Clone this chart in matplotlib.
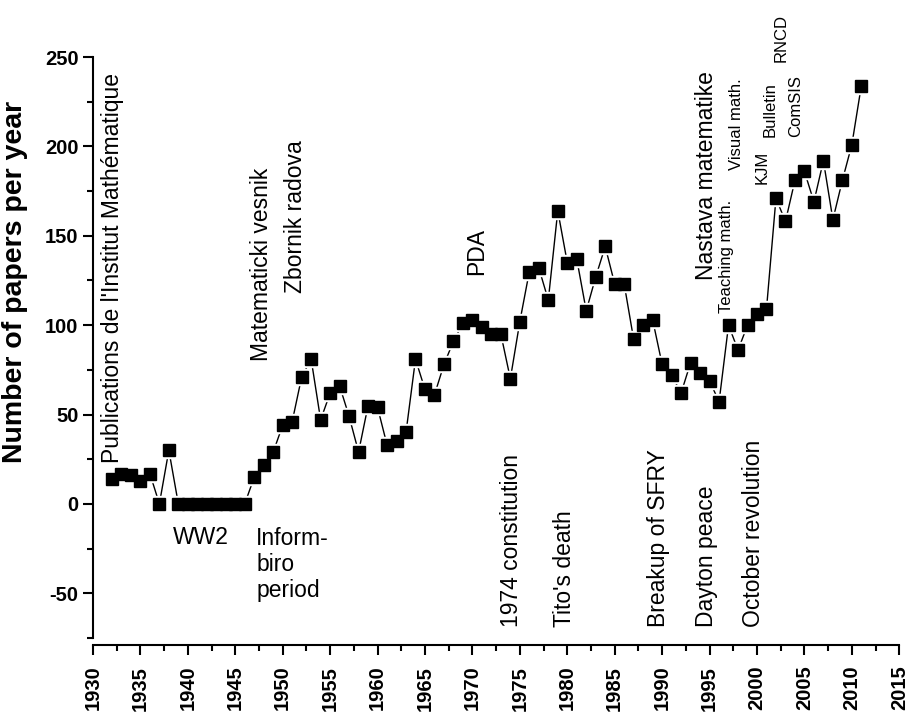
import numpy as np
import matplotlib
matplotlib.use("Agg")
import matplotlib.pyplot as plt
from matplotlib.ticker import MultipleLocator

plt.rcParams['font.family'] = ['Liberation Sans', 'DejaVu Sans']
plt.rcParams['axes.unicode_minus'] = False

years = list(range(1932, 2012))
papers = [14, 17, 16, 13, 17, 0, 30,
          0, 0, 0, 0, 0, 0, 0, 0,
          15, 22, 29, 44, 46, 71, 81, 47, 62, 66, 49, 29, 55, 54, 33, 35, 40,
          81, 64, 61, 78, 91, 101, 103, 99, 95, 95, 70, 102, 130, 132, 114,
          164, 135, 137, 108, 127, 144, 123, 123, 92, 100, 103, 78, 72, 62,
          79, 73, 69, 57, 100, 86, 100, 106, 109, 171, 158, 181, 186, 169,
          192, 159, 181, 201, 234]

# journals started (top) and events (bottom): label, x, y of text bottom
journals = [("Publications de l'Institut Mathématique", 1932.1, 23, 16.5),
            ("Matematicki vesnik", 1947.75, 80, 16.5),
            ("Zbornik radova", 1951.3, 118, 16.5),
            ("PDA", 1970.4, 128, 16.5),
            ("Nastava matematike", 1994.7, 125, 16.5),
            ("Teaching math.", 1996.8, 107, 12),
            ("Visual math.", 1997.8, 187, 12),
            ("KJM", 2000.5, 179, 12),
            ("Bulletin", 2001.4, 205, 12),
            ("ComSIS", 2004.1, 205, 12),
            ("RNCD", 2002.5, 247, 12)]
events = [("1974 constitution", 1974.1),
          ("Tito's death", 1979.7),
          ("Breakup of SFRY", 1989.6),
          ("Dayton peace", 1994.7),
          ("October revolution", 1999.6)]

fig = plt.figure(figsize=(9.07, 7.19), dpi=100)
ax = fig.add_axes([0.1025, 0.1127, 0.889, 0.808])

ax.plot(years, papers, color='black', lw=1.0, zorder=2)
# white halo so the line stops short of the markers
ax.plot(years, papers, ls='none', marker='s', ms=11, color='white', zorder=3)
ax.plot(years, papers, ls='none', marker='s', ms=8.2, color='black', zorder=4)

for label, x, y, fs in journals:
    ax.text(x, y, label, rotation=90, ha='center', va='bottom', fontsize=fs)
for label, x in events:
    ax.text(x, -69, label, rotation=90, ha='center', va='bottom', fontsize=16.5)

ax.text(1941.35, -19, "WW2", ha='center', va='center', fontsize=16.5)
ax.text(1947.2, -13, "Inform-\nbiro\nperiod", ha='left', va='top', fontsize=16.5,
        linespacing=1.15)

ax.set_xlim(1930, 2015)
ax.set_ylim(-75, 250)
ax.xaxis.set_major_locator(MultipleLocator(5))
ax.xaxis.set_minor_locator(MultipleLocator(2.5))
ax.yaxis.set_major_locator(MultipleLocator(50))
ax.yaxis.set_minor_locator(MultipleLocator(25))

for side in ['top', 'right']:
    ax.spines[side].set_visible(False)
for side in ['left', 'bottom']:
    ax.spines[side].set_linewidth(1.5)
ax.spines['bottom'].set_position(('outward', 5))

ax.tick_params(which='major', length=7, width=1.5, direction='out')
ax.tick_params(which='minor', length=4, width=1.5, direction='out')
ax.tick_params(axis='both', labelsize=14.5)
for lab in ax.get_xticklabels():
    lab.set_rotation(90)
    lab.set_fontweight('bold')
for lab in ax.get_yticklabels():
    lab.set_fontweight('bold')
ax.tick_params(axis='x', pad=8)

ax.set_ylabel("Number of papers per year", fontsize=20.5, fontweight='bold')
ax.yaxis.set_label_coords(-0.081, 0.613)

fig.savefig("out.png", dpi=100)
